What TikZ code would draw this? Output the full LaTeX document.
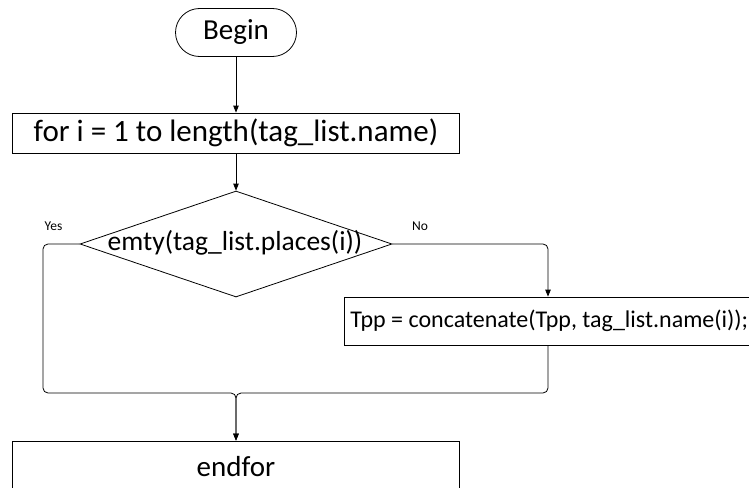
\documentclass[tikz,border=0pt]{standalone}
\usepackage{fontspec}
\setmainfont{Carlito}
\usetikzlibrary{arrows.meta,shapes.geometric}
\begin{document}
\begin{tikzpicture}[x=1pt,y=-1pt,
  line width=0.8pt,
  flow/.style={draw, line width=0.8pt, rounded corners=5pt},
  arr/.style={flow, -{Triangle[length=7pt,width=5.5pt]}},
  boxnode/.style={draw, rectangle, inner sep=0pt},
  bigtext/.style={font=\fontsize{31}{36}\selectfont, inner sep=0pt},
  term/.style={draw, rectangle, rounded corners=24pt, inner sep=0pt,
    minimum width=121pt, minimum height=48pt, font=\fontsize{29}{34}\selectfont},
  tag/.style={font=\fontsize{13.5}{16}\selectfont, inner sep=0pt}
]
\useasboundingbox (0,0) rectangle (749,487);
\clip (0,0) rectangle (749,487);

% process steps
\node[term] (begin) at (236,32.5) {Begin};
\node[boxnode, minimum width=447pt, minimum height=40pt, bigtext] (loop) at (236,133) {for i = 1 to length(tag\_list.name)};
\node[draw, diamond, inner sep=0pt, minimum width=312pt, minimum height=106pt] (test) at (236,244) {};
\node[font=\fontsize{27.5}{32}\selectfont, inner sep=0pt] (testtxt) at (235,243) {emty(tag\_list.places(i))};
\node[boxnode, minimum width=408pt, minimum height=48pt] (append) at (548,321) {};
\node[font=\fontsize{24}{28}\selectfont, inner sep=0pt, anchor=west] (appendtxt) at (350,321) {Tpp = concatenate(Tpp, tag\_list.name(i));};
\node[boxnode, minimum width=447pt, minimum height=80pt] (endloop) at (236,481) {};
\node[font=\fontsize{29}{34}\selectfont, inner sep=0pt, anchor=base] (endtxt) at (236,476) {endfor};

% branch labels
\node[tag] (yes) at (53.5,226) {Yes};
\node[tag] (no) at (420,226) {No};

% junction points
\coordinate (yescorner) at (43,393);
\coordinate (merge) at (236,393);

% connectors
\draw[arr] (begin) -- (loop);
\draw[arr] (loop) -- (test);
\draw[arr] (test.east) -| (append.north);
\draw[arr] (test.west) -| (yescorner) -- (merge) -- (endloop.north);
\draw[arr] (append.south) |- (merge) -- (endloop.north);
\end{tikzpicture}
\end{document}
